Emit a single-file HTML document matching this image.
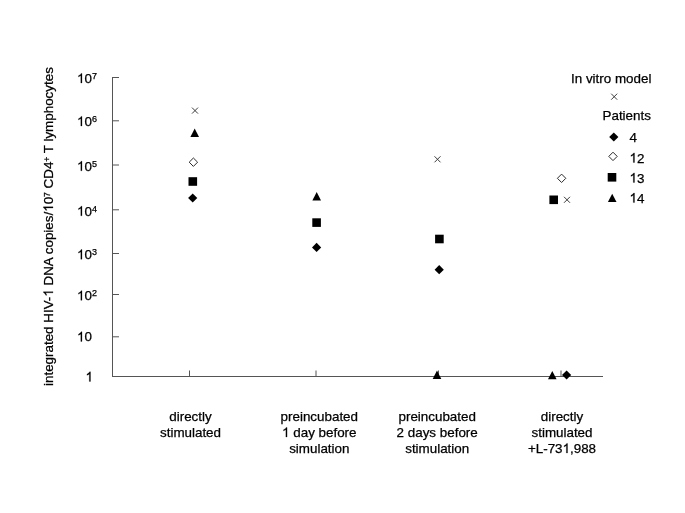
<!DOCTYPE html>
<html><head><meta charset="utf-8">
<style>
html,body{margin:0;padding:0;background:#fff;}
body{width:685px;height:513px;overflow:hidden;}
svg{display:block;will-change:transform;}
text{font-family:"Liberation Sans", sans-serif;fill:#000;stroke:#000;stroke-width:0.25px;}
.o{fill-opacity:0;stroke-opacity:0;}
.one{fill:#000;stroke:#000;stroke-width:0.25px;vector-effect:non-scaling-stroke;}
</style></head>
<body>
<svg width="685" height="513" viewBox="0 0 685 513">
<rect width="685" height="513" fill="#fff"/>
<!-- axes -->
<g stroke="#555" stroke-width="1" fill="none">
  <path d="M112.5 77 V376.5 H603" shape-rendering="crispEdges"/>
  <path d="M112 77.5 H119 M112 120.8 H119 M112 165 H119 M112 209.8 H119 M112 253.5 H119 M112 294.5 H119 M112 336.8 H119"/>
  <path d="M189.5 370.5 V376 M316 370.5 V376 M438.5 370.5 V376 M561 370.5 V376"/>
</g>
<!-- y labels -->
<g font-size="13.4" text-anchor="start">
  <text id="t1" x="77" y="83"><tspan class="o">1</tspan>0<tspan font-size="9" dy="-4.2">7</tspan></text><path class="one" d="M763 0H583V1147Q518 1085 415 1024.5Q312 964 223 931V1105Q374 1176 475 1266Q576 1356 626 1466H763Z" transform="translate(77.00,83.00) scale(0.006543,-0.006543)"/>
  <text id="t2" x="77" y="126"><tspan class="o">1</tspan>0<tspan font-size="9" dy="-4.2">6</tspan></text><path class="one" d="M763 0H583V1147Q518 1085 415 1024.5Q312 964 223 931V1105Q374 1176 475 1266Q576 1356 626 1466H763Z" transform="translate(77.00,126.00) scale(0.006543,-0.006543)"/>
  <text id="t3" x="77" y="170.8"><tspan class="o">1</tspan>0<tspan font-size="9" dy="-4.2">5</tspan></text><path class="one" d="M763 0H583V1147Q518 1085 415 1024.5Q312 964 223 931V1105Q374 1176 475 1266Q576 1356 626 1466H763Z" transform="translate(77.00,170.80) scale(0.006543,-0.006543)"/>
  <text id="t4" x="77" y="215.8"><tspan class="o">1</tspan>0<tspan font-size="9" dy="-4.2">4</tspan></text><path class="one" d="M763 0H583V1147Q518 1085 415 1024.5Q312 964 223 931V1105Q374 1176 475 1266Q576 1356 626 1466H763Z" transform="translate(77.00,215.80) scale(0.006543,-0.006543)"/>
  <text id="t5" x="77" y="259.2"><tspan class="o">1</tspan>0<tspan font-size="9" dy="-4.2">3</tspan></text><path class="one" d="M763 0H583V1147Q518 1085 415 1024.5Q312 964 223 931V1105Q374 1176 475 1266Q576 1356 626 1466H763Z" transform="translate(77.00,259.20) scale(0.006543,-0.006543)"/>
  <text id="t6" x="77" y="300.3"><tspan class="o">1</tspan>0<tspan font-size="9" dy="-4.2">2</tspan></text><path class="one" d="M763 0H583V1147Q518 1085 415 1024.5Q312 964 223 931V1105Q374 1176 475 1266Q576 1356 626 1466H763Z" transform="translate(77.00,300.30) scale(0.006543,-0.006543)"/>
  <text id="t7" x="77" y="341.4"><tspan class="o">1</tspan>0</text><path class="one" d="M763 0H583V1147Q518 1085 415 1024.5Q312 964 223 931V1105Q374 1176 475 1266Q576 1356 626 1466H763Z" transform="translate(77.00,341.40) scale(0.006543,-0.006543)"/>
  <text id="t8" x="85.5" y="381.4"><tspan class="o">1</tspan></text><path class="one" d="M763 0H583V1147Q518 1085 415 1024.5Q312 964 223 931V1105Q374 1176 475 1266Q576 1356 626 1466H763Z" transform="translate(85.50,381.40) scale(0.006543,-0.006543)"/>
</g>
<!-- y title -->
<g transform="translate(53,386) rotate(-90)">
<text id="t9" font-size="13.4" x="0" y="0">integrated HIV-<tspan class="o">1</tspan> DNA copies/<tspan class="o">1</tspan>0<tspan font-size="8.5" dy="-2.7">7</tspan><tspan dy="2.7"> CD4</tspan><tspan font-size="8.5" dy="-2.7">+</tspan><tspan dy="2.7"> T lymphocytes</tspan></text><path class="one" d="M763 0H583V1147Q518 1085 415 1024.5Q312 964 223 931V1105Q374 1176 475 1266Q576 1356 626 1466H763Z" transform="translate(89.33,0.00) scale(0.006543,-0.006543)"/><path class="one" d="M763 0H583V1147Q518 1085 415 1024.5Q312 964 223 931V1105Q374 1176 475 1266Q576 1356 626 1466H763Z" transform="translate(174.19,0.00) scale(0.006543,-0.006543)"/>
</g>
<!-- category labels -->
<g font-size="13.4" text-anchor="middle">
  <text x="190.5" y="421">directly</text>
  <text x="190.5" y="437">stimulated</text>
  <text x="319.3" y="421">preincubated</text>
  <text id="t10" x="319.3" y="437"><tspan class="o">1</tspan> day before</text><path class="one" d="M763 0H583V1147Q518 1085 415 1024.5Q312 964 223 931V1105Q374 1176 475 1266Q576 1356 626 1466H763Z" transform="translate(282.07,437.00) scale(0.006543,-0.006543)"/>
  <text x="319.3" y="453">simulation</text>
  <text x="437.2" y="421">preincubated</text>
  <text x="437.2" y="437">2 days before</text>
  <text x="437.2" y="453">stimulation</text>
  <text x="562" y="421">directly</text>
  <text x="562" y="437">stimulated</text>
  <text id="t11" x="562" y="453">+L-73<tspan class="o">1</tspan>,988</text><path class="one" d="M763 0H583V1147Q518 1085 415 1024.5Q312 964 223 931V1105Q374 1176 475 1266Q576 1356 626 1466H763Z" transform="translate(562.55,453.00) scale(0.006543,-0.006543)"/>
</g>
<!-- legend -->
<g font-size="13.4">
  <text x="571" y="82.8">In vitro model</text>
  <text x="602.5" y="119.6">Patients</text>
  <text x="629.5" y="142">4</text>
  <text id="t12" x="629.5" y="162.5"><tspan class="o">1</tspan>2</text><path class="one" d="M763 0H583V1147Q518 1085 415 1024.5Q312 964 223 931V1105Q374 1176 475 1266Q576 1356 626 1466H763Z" transform="translate(629.50,162.50) scale(0.006543,-0.006543)"/>
  <text id="t13" x="629.5" y="182.5"><tspan class="o">1</tspan>3</text><path class="one" d="M763 0H583V1147Q518 1085 415 1024.5Q312 964 223 931V1105Q374 1176 475 1266Q576 1356 626 1466H763Z" transform="translate(629.50,182.50) scale(0.006543,-0.006543)"/>
  <text id="t14" x="629.5" y="202.6"><tspan class="o">1</tspan>4</text><path class="one" d="M763 0H583V1147Q518 1085 415 1024.5Q312 964 223 931V1105Q374 1176 475 1266Q576 1356 626 1466H763Z" transform="translate(629.50,202.60) scale(0.006543,-0.006543)"/>
</g>
<defs>
  <path id="dia" d="M0 -4.6 L4.6 0 L0 4.6 L-4.6 0Z" fill="#000"/>
  <path id="odia" d="M0 -4.2 L4.2 0 L0 4.2 L-4.2 0Z" fill="#fff" stroke="#2a2a2a" stroke-width="1"/>
  <rect id="sq" x="-4.3" y="-4.3" width="8.6" height="8.6" fill="#000"/>
  <path id="tri" d="M0 -4.3 L4.3 4.1 L-4.3 4.1Z" fill="#000"/>
  <path id="x" d="M-3 -3 L3 3 M3 -3 L-3 3" stroke="#333" stroke-width="0.95" fill="none"/>
</defs>
<!-- data -->
<use href="#x" x="195" y="110.6"/>
<use href="#tri" x="194.7" y="132.8"/>
<use href="#odia" x="193.4" y="162.2"/>
<use href="#sq" x="192.8" y="181.5"/>
<use href="#dia" x="192.7" y="198"/>

<use href="#tri" x="316.7" y="196.4"/>
<use href="#sq" x="316.6" y="222.6"/>
<use href="#dia" x="316.6" y="247.4"/>

<use href="#x" x="437.5" y="159.3"/>
<use href="#sq" x="439.4" y="239"/>
<use href="#dia" x="439.2" y="269.7"/>
<use href="#tri" x="437" y="374.8"/>

<use href="#odia" x="561.6" y="178.3"/>
<use href="#sq" x="553.7" y="199.8"/>
<use href="#x" x="567" y="199.8"/>
<use href="#tri" x="552.3" y="375.2"/>
<use href="#dia" x="566.6" y="375"/>

<!-- legend markers -->
<use href="#x" x="614.2" y="96.7"/>
<use href="#dia" x="613.8" y="137"/>
<use href="#odia" x="613" y="156.4"/>
<use href="#sq" x="612" y="177.3"/>
<use href="#tri" x="612.2" y="198"/>
</svg>
</body></html>
